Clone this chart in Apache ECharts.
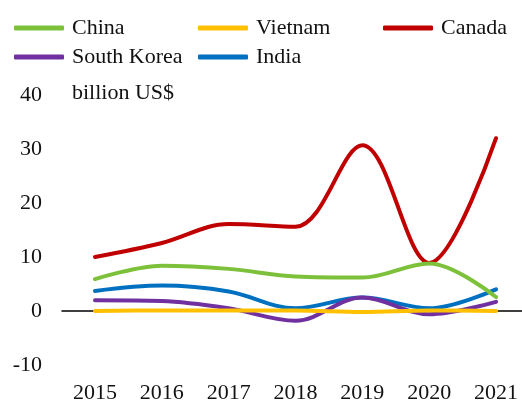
<!DOCTYPE html>
<html>
<head>
<meta charset="utf-8">
<script src="https://cdn.jsdelivr.net/npm/echarts@6/dist/echarts.min.js"></script>
<style>
  html, body { margin: 0; padding: 0; background: #fff; }
  #chart { width: 522px; height: 404px; }
</style>
</head>
<body>
<div id="chart"></div>
<script>
// Annual values, billion US$
const years = ['2015', '2016', '2017', '2018', '2019', '2020', '2021'];
const china = [5.9, 8.4, 7.8, 6.4, 6.2, 8.8, 2.6];
const vietnam = [0.0, 0.1, 0.1, 0.1, -0.2, 0.1, 0.0];
const canada = [10.0, 12.6, 16.1, 15.6, 30.7, 8.9, 32.0];
const southKorea = [2.0, 1.85, 0.5, -1.8, 2.5, -0.6, 1.7];
const india = [3.7, 4.7, 3.6, 0.5, 2.5, 0.5, 4.0];
const yTicks = { min: -10, max: 40, interval: 10 };

const FONT = 'Liberation Serif';

const seriesDefs = [
  { name: 'China', data: china, color: '#7DC13B' },
  { name: 'Vietnam', data: vietnam, color: '#FFC000' },
  { name: 'Canada', data: canada, color: '#C00000' },
  { name: 'South Korea', data: southKorea, color: '#7030A0' },
  { name: 'India', data: india, color: '#0070C0' }
];

// legend slots: two rows, three columns
const legendPos = {
  'China': [14, 17],
  'Vietnam': [198, 17],
  'Canada': [383, 17],
  'South Korea': [14, 46],
  'India': [198, 46]
};

const legends = seriesDefs.map(s => ({
  data: [s.name],
  left: legendPos[s.name][0],
  top: legendPos[s.name][1],
  orient: 'horizontal',
  icon: 'roundRect',
  itemWidth: 50,
  itemHeight: 5,
  padding: 0,
  selectedMode: false,
  textStyle: { fontFamily: FONT, fontSize: 22, color: '#111', padding: [0, 0, 0, 3] }
}));

const series = seriesDefs.map((s, i) => ({
  name: s.name,
  type: 'line',
  data: s.data,
  smooth: 0.35,
  symbol: 'none',
  z: 10 - i,
  lineStyle: { color: s.color, width: 4, cap: 'round' },
  itemStyle: { color: s.color }
}));

// empty series on the full-width grid that carries the zero line
series.push({
  type: 'line',
  data: [],
  xAxisIndex: 1,
  yAxisIndex: 1,
  silent: true
});

const chart = echarts.init(document.getElementById('chart'), null, { renderer: 'canvas' });
chart.setOption({
  animation: false,
  backgroundColor: '#fff',
  legend: legends,
  grid: [
    // data grid: first and last category sit at its edges
    { left: 95, width: 401, top: 95, height: 270, containLabel: false },
    // full-width grid for the horizontal zero line
    { left: 62, right: 0, top: 95, height: 270, containLabel: false }
  ],
  xAxis: [{
    type: 'category',
    gridIndex: 0,
    data: years,
    boundaryGap: false,
    axisLine: { show: false, onZero: false },
    axisTick: { show: false },
    axisLabel: { fontFamily: FONT, fontSize: 22, color: '#111', margin: 17 },
    splitLine: { show: false }
  }, {
    type: 'value',
    gridIndex: 1,
    min: 0,
    max: 1,
    axisLine: { show: true, onZero: true, lineStyle: { color: '#000', width: 1.5 } },
    axisTick: { show: false },
    axisLabel: { show: false },
    splitLine: { show: false }
  }],
  yAxis: [{
    type: 'value',
    gridIndex: 0,
    min: yTicks.min,
    max: yTicks.max,
    interval: yTicks.interval,
    axisLine: { show: false },
    axisTick: { show: false },
    splitLine: { show: false },
    axisLabel: { show: false }
  }, {
    type: 'value',
    gridIndex: 1,
    min: yTicks.min,
    max: yTicks.max,
    interval: yTicks.interval,
    axisLine: { show: false },
    axisTick: { show: false },
    splitLine: { show: false },
    axisLabel: { fontFamily: FONT, fontSize: 22, color: '#111', margin: 20 }
  }],
  graphic: [{
    type: 'text',
    left: 72,
    top: 82,
    style: { text: 'billion US$', fontFamily: FONT, fontSize: 22, fill: '#111' }
  }],
  series: series
});
</script>
</body>
</html>
